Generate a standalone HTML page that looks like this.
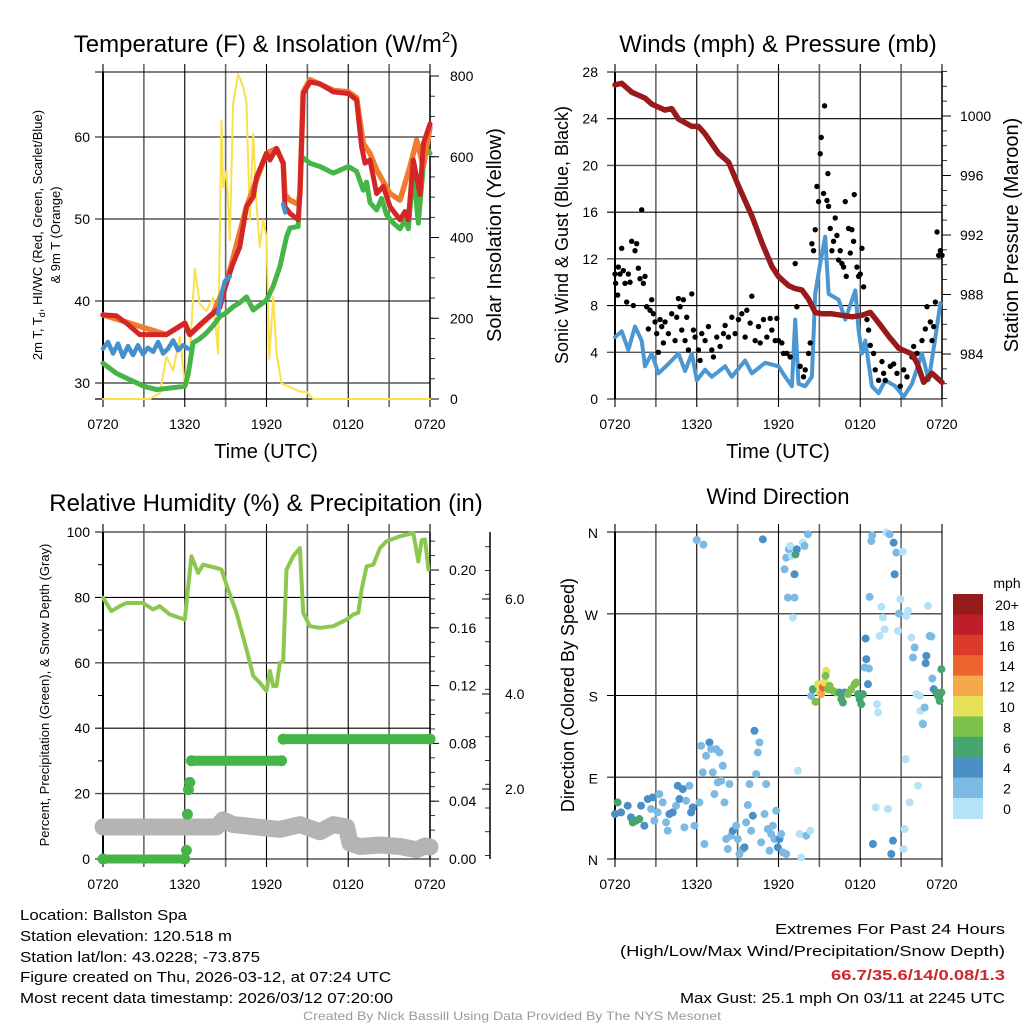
<!DOCTYPE html>
<html><head><meta charset="utf-8"><style>
html,body{margin:0;padding:0;background:#fff;}
svg{display:block;font-family:"Liberation Sans",sans-serif;}
.ft{font-family:"Liberation Sans",sans-serif;font-size:15px;}
</style></head><body>
<svg id="chart" width="1024" height="1024" viewBox="0 0 1024 1024" xmlns="http://www.w3.org/2000/svg">
<g id="layer"></g>
<text class="ft" x="20" y="920" textLength="167" lengthAdjust="spacingAndGlyphs">Location: Ballston Spa</text>
<text class="ft" x="20" y="941" textLength="212" lengthAdjust="spacingAndGlyphs">Station elevation: 120.518 m</text>
<text class="ft" x="20" y="962" textLength="240" lengthAdjust="spacingAndGlyphs">Station lat/lon: 43.0228; -73.875</text>
<text class="ft" x="20" y="982" textLength="371" lengthAdjust="spacingAndGlyphs">Figure created on Thu, 2026-03-12, at 07:24 UTC</text>
<text class="ft" x="20" y="1003" textLength="373" lengthAdjust="spacingAndGlyphs">Most recent data timestamp: 2026/03/12 07:20:00</text>
<text class="ft" x="1005" y="934" text-anchor="end" textLength="230" lengthAdjust="spacingAndGlyphs">Extremes For Past 24 Hours</text>
<text class="ft" x="1005" y="956" text-anchor="end" textLength="385" lengthAdjust="spacingAndGlyphs">(High/Low/Max Wind/Precipitation/Snow Depth)</text>
<text class="ft" x="1005" y="980" text-anchor="end" fill="#d0262d" font-weight="bold" textLength="174" lengthAdjust="spacingAndGlyphs">66.7/35.6/14/0.08/1.3</text>
<text class="ft" x="1005" y="1003" text-anchor="end" textLength="325" lengthAdjust="spacingAndGlyphs">Max Gust: 25.1 mph On 03/11 at 2245 UTC</text>
<text x="512" y="1020" text-anchor="middle" font-size="12" fill="#9a9a9a" textLength="418" lengthAdjust="spacingAndGlyphs">Created By Nick Bassill Using Data Provided By The NYS Mesonet</text>
</svg>
<script>
// ---------- DATA (hours after 0720 UTC use zoom-x: t=(zx-310)/40.83) ----------
const timeLabels = ["0720","1320","1920","0120","0720"];
const tempTicks = [30,40,50,60];
const solarTicks = [0,200,400,600,800];
const windTicks = [0,4,8,12,16,20,24,28];
const presTicks = [984,988,992,996,1000];
const rhTicks = [0,20,40,60,80,100];
const precipTicks = ["0.00","0.04","0.08","0.12","0.16","0.20"];
const snowTicks = ["2.0","4.0","6.0"];
const dirLabels = ["N","E","S","W","N"];
const speedBins = ["0","2","4","6","8","10","12","14","16","18","20+"];

const redX = [310,350,380,420,433,500,555,570,600,640,660,680,700,720,740,760,770,800,810,830,850,855,870,895,900,910,930,960,1000,1045,1070,1085,1095,1110,1130,1150,1170,1200,1215,1225,1240,1260,1270,1290];
const redV = [38.3,38.2,37.3,35.9,35.9,35.9,37.3,35.9,37.1,38.5,39.2,42.2,44.6,46.6,51.5,52.7,55.1,58,57.2,58.6,56.8,51.5,50.7,49.9,53,65.3,66.7,66.5,65.5,65.3,64.5,58.8,56.8,57.2,53.1,54,51.5,49.9,50.9,49.9,57.2,53,59.2,61.6];
const orangeX = [310,500,555,570,640,680,740,800,830,850,855,870,895,900,910,930,1000,1045,1070,1090,1110,1130,1170,1200,1230,1250,1270,1290];
const orangeV = [38.3,35.9,37.3,35.9,38.5,42.2,51.5,58,58.6,56.8,53,52.3,51.8,53,65.5,67,65.7,65.5,64.8,59.2,58,56,53.1,52.3,56.4,59.6,56.4,61.2];
const blueX = [310,325,340,355,370,385,400,415,430,445,460,475,490,505,520,535,550,565,null,655,665,675,690,null,850,856];
const blueV = [34.2,35,33.6,34.8,33.2,34.5,33.4,34.6,33.5,34.3,33.8,35,33.6,34.2,35.2,34,34.6,34.2,null,38.4,40.8,42.4,43,null,51.8,50.8];
const greenX = [310,350,380,433,470,555,565,580,600,620,640,660,680,700,720,740,760,780,800,820,840,860,870,895,905,930,960,1000,1045,1070,1090,1100,1110,1130,1145,1160,1180,1200,1215,1225,1240,1255,1275,1290];
const greenV = [32.4,31.2,30.6,29.6,29.2,29.6,31,34.9,35.4,36.1,37,38.1,38.6,39.3,39.8,40.5,38.9,39.5,40.1,41.8,44.2,47.8,48.9,49.1,57.6,56.8,56.4,55.6,56.4,55.8,53.5,54.5,52,51.1,52.5,50.5,49.5,48.8,49.8,48.8,56,49.5,58.8,58];
const solarX = [310,450,480,500,520,540,555,565,585,600,620,640,655,665,670,680,690,700,715,730,740,750,760,770,780,790,800,808,820,830,845,870,900,920,940,1290];
const solarV = [0,0,14,105,70,154,39,39,323,235,218,251,113,690,525,566,393,731,805,773,732,443,657,485,377,443,402,100,253,113,39,30,18,18,0,0];

const sonicX = [310,330,350,370,390,400,420,440,470,500,520,540,555,580,600,640,660,700,720,760,800,820,840,850,860,880,900,910,925,940,950,980,1000,1030,1040,1050,1060,1080,1100,1120,1150,1175,1200,1230,1250,1270,1285];
const sonicV = [5.3,5.8,4.2,6.2,5,2.8,3.9,2.2,3,3.9,2.4,3.9,1.6,2.5,1.9,2.8,1.9,3.3,2.2,3.1,2.8,1.9,1.1,6.8,1.3,1.1,1.9,9,11.6,13.9,9,8.5,6.8,9.3,5.9,3.9,5,1.1,0.5,1.6,1.1,0.2,1.3,3.9,1.6,5.3,8.2];
const gustX = [310,312,318,320,325,330,335,340,345,350,355,360,365,370,375,380,385,390,395,400,405,410,415,420,425,430,435,440,445,450,455,460,470,480,490,495,500,505,510,515,520,525,530,540,545,550,560,565,570,580,590,600,605,615,625,635,640,650,660,670,680,690,700,705,715,720,730,740,745,755,765,775,780,790,795,800,810,815,825,835,850,855,865,875,880,890,895,900,905,910,915,920,925,928,935,938,945,948,950,955,960,965,970,975,980,985,990,995,1000,1003,1010,1015,1020,1025,1027,1035,1040,1045,1050,1055,1065,1070,1075,1085,1090,1100,1110,1115,1120,1135,1145,1155,1165,1175,1185,1200,1205,1215,1230,1240,1245,1255,1260,1265,1270,1275,1280,1285,1290];
const gustV = [10.7,9.9,8.9,11.3,10.7,12.9,11,9.9,8.3,10.7,10,13.5,8,12.7,13.3,11.2,10.3,16.2,9.9,10.5,7.9,6,7.6,8.5,7.3,6.6,5.6,4,6.8,6.2,4.8,6.6,5.6,7.3,5,7,8.6,7.9,5.9,8.5,5,7,4.2,9,5.9,5.3,4.2,3.3,5.6,5,6.2,4.2,3.6,5.3,4.5,5.6,6.3,5.3,7,5.6,6.8,7.3,5.3,7.6,6.5,8.8,5,6.2,4.8,6.8,5.3,6.9,5.9,5,6.9,5,4.8,3.9,3.9,3.6,11.6,7.9,2.8,1.9,2.5,3.9,4.8,13.3,12.7,14.5,18.2,16.9,21,22.4,17.6,25.1,17,19.3,16.5,14.6,12.7,13.5,15.5,14,11.9,12.7,11.6,11.3,16.9,10.5,14.6,12.5,14.5,13.5,17.5,11.3,10.5,10.7,12.9,9.6,6.8,5.9,4.6,3.9,2.5,1.6,3.2,2.2,1.6,2.8,3,2.2,1.1,2.5,1.9,3.6,4.5,3.9,5,6,7.9,6.6,5,6.2,8.3,14.3,12.3,12.7,12.3];
const presX = [310,330,360,400,420,460,480,500,540,560,580,620,650,680,720,750,780,800,830,850,870,890,910,930,960,990,1020,1050,1075,1100,1130,1160,1200,1215,1235,1260,1290];
const presV = [1002.1,1002.2,1001.6,1001.2,1000.8,1000.4,1000.5,999.8,999.3,999.3,998.8,997.5,996.9,995.3,993.3,991.5,989.9,989.2,988.6,988.4,988.3,987.7,986.8,986.7,986.7,986.6,986.5,986.6,986.8,986.1,985.2,984.4,984,983.4,982.1,982.7,982.1];

const rhX = [310,335,360,380,430,460,480,510,555,575,595,610,650,665,685,710,740,760,780,800,810,820,830,840,850,860,880,900,910,930,960,1000,1040,1060,1075,1085,1100,1120,1140,1160,1200,1240,1255,1265,1275,1285];
const rhV = [79.9,75.8,77.3,78.3,78.3,76.3,77.3,74.8,73.2,92.6,87.5,90,89,88.5,82.4,75.3,64.1,56,53.9,51.4,57.5,52.9,52.9,60,60.5,88.5,92.6,95.1,75.3,71.2,70.7,71.2,73.2,74.8,75.3,82.4,89.5,90,95.1,97.2,98.7,99.7,91,97.5,97.7,88.5];
const precipX = [310,555,560,563,566,570,575,845,850,1290];
const precipV = [0,0,0.006,0.031,0.048,0.053,0.068,0.068,0.083,0.083];
const snowX = [310,650,670,700,840,900,960,1000,1040,1050,1080,1140,1200,1250,1275,1290];
const snowV = [1.2,1.2,1.35,1.25,1.15,1.25,1.1,1.25,1.2,0.86,0.79,0.82,0.79,0.72,0.8,0.78];

const dirX = [227,235,245,265,275,280,290,300,305,315,325,335,340,345,355,360,370,380,385,390,400,410,415,420,430,435,440,450,455,460,465,472,492,670,480,485,490,495,500,510,515,520,525,530,535,540,545,550,555,560,565,570,575,580,590,595,600,610,615,620,625,630,635,640,645,650,655,660,665,675,680,685,690,695,700,705,710,715,720,725,730,740,735,740,745,748,752,757,760,765,765,768,772,775,780,785,790,795,805,800,812,815,820,828,835,840,845,850,855,860,858,865,870,880,890,900,905,910,915,925,935,945,950,955,960,965,970,975,980,985,978,988,990,995,998,1000,1008,1012,1015,1020,1025,1030,1035,1040,1045,1050,1055,1060,1062,1065,1070,1075,1078,1082,1090,1092,1095,1098,1100,1105,1110,1115,1120,1125,1130,1135,1140,1142,1148,1150,1155,1160,1158,1165,1170,1175,1178,1182,1190,1195,1200,1205,1205];
const dirY = [885,850,880,860,895,910,905,900,860,920,840,870,835,905,880,825,850,910,935,885,880,860,800,840,810,925,845,800,880,865,920,62,76,60,850,680,760,975,710,670,690,760,825,690,790,700,785,740,850,960,990,795,950,935,920,960,1005,990,985,910,858,795,935,890,635,765,700,670,970,885,795,930,995,945,920,960,875,985,960,945,1000,1005,150,115,235,90,80,110,295,165,235,105,90,755,945,1015,70,80,45,950,935,530,510,548,495,520,525,505,490,455,470,510,500,515,520,520,540,550,520,525,510,495,490,525,540,555,525,445,420,495,358,448,233,65,48,975,865,555,580,350,263,295,330,40,870,45,1005,965,70,165,100,335,283,240,97,990,930,720,290,275,850,355,415,385,525,800,530,575,612,615,565,410,432,260,350,352,478,510,520,530,545,450,520];
const dirS = [4,6,4,4,4,6,6,6,4,4,4,2,4,2,2,2,2,2,2,4,4,2,4,4,4,2,2,2,4,4,2,2,2,4,2,2,2,2,2,4,2,2,2,2,2,2,2,2,2,2,2,2,2,4,2,2,2,2,4,2,2,2,2,4,4,2,2,2,2,2,2,2,2,2,2,2,2,4,4,2,2,2,2,2,2,2,0,0,0,4,2,6,4,0,0,0,0,2,2,2,0,2,6,8,10,10,12,14,10,10,8,8,8,8,8,6,6,6,4,8,8,8,8,6,6,6,6,2,4,4,4,2,2,2,2,4,0,0,0,0,0,0,0,0,0,2,4,4,4,4,2,0,2,0,0,0,0,0,0,0,0,0,2,2,0,0,0,0,0,2,2,4,4,0,2,2,2,4,6,6,6,6,6];

const binColors = ["#b5e2f7","#7dbae3","#4a8fc6","#47a56e","#7cc24a","#e6e159","#f4a94a","#ee6430","#dc3a2a","#bf1d27","#951a1a"];

// ---------- DRAWING ----------
const NS = "http://www.w3.org/2000/svg";
const layer = document.getElementById('layer');
function el(tag, attrs, parent, txt){const e=document.createElementNS(NS,tag);for(const k in attrs)e.setAttribute(k,attrs[k]);if(txt!==undefined)e.textContent=txt;(parent||layer).appendChild(e);return e;}
function grp(name){const g=el('g',{});


return g;}
function lin(a0,a1,p0,p1){return v=>p0+(v-a0)*(p1-p0)/(a1-a0);}
const zt = zx => (zx-310)/40.83; // hours
function pathFrom(xs,vs,xf,yf){let d="",pen=false;for(let i=0;i<xs.length;i++){if(xs[i]===null||vs[i]===null){pen=false;continue;}d+=(pen?"L":"M")+xf(zt(xs[i])).toFixed(1)+","+yf(vs[i]).toFixed(1);pen=true;}return d;}
function line(g,name,xs,vs,xf,yf,color,w){const p=el('path',{d:pathFrom(xs,vs,xf,yf),fill:'none',stroke:color,'stroke-width':w,'stroke-linejoin':'round','stroke-linecap':'round'},g);


return p;}
function txt(g,name,x,y,s,size,anchor,rot){const a={x:x,y:y,'font-size':size,'text-anchor':anchor||'middle'};if(rot)a.transform=`rotate(${rot} ${x} ${y})`;const t=el('text',a,g,s);


return t;}

function frame(g,x0,x1,y0,y1){
  const xf=lin(0,24,x0,x1);
  for(let i=0;i<=8;i++){const x=xf(i*3);const odd=i%2===1;
    el('line',{x1:x,x2:x,y1:y0-8,y2:y1+8,stroke:odd?'#666':'#000','stroke-width':odd?1.6:1.1},g);}
  for(let i=0;i<timeLabels.length;i++){txt(g,'x-tick-label',xf(i*6),y1+30,timeLabels[i],14);}
  return xf;
}
function hgrid(g,ys,x0,x1,len){ys.forEach((y,i)=>el('line',{x1:x0-len,x2:x1,y1:y,y2:y,stroke:i%2? '#555':'#000','stroke-width':i%2?1.4:1.1},g));}
function rticks(g,x,yf,majors,minorStep,vmin,vmax){
  for(let v=vmin;v<=vmax+1e-9;v+=minorStep){el('line',{x1:x,x2:x+5,y1:yf(v),y2:yf(v),stroke:'#000','stroke-width':0.8},g);}
  majors.forEach(v=>el('line',{x1:x,x2:x+9,y1:yf(v),y2:yf(v),stroke:'#000','stroke-width':1},g));
  el('line',{x1:x,x2:x,y1:yf(vmax),y2:yf(vmin),stroke:'#000','stroke-width':1.5},g);
}

// ===== Panel 1: Temperature =====
(function(){
 const g=grp('temperature-panel');
 const X0=103,X1=430,Y0=72,Y1=399;
 const yT=lin(30,60,383,137), yS=lin(0,800,399,76);
 txt(g,'temperature-title',266,52,'Temperature (F) & Insolation (W/m',24).innerHTML='Temperature (F) &amp; Insolation (W/m<tspan font-size="15" dy="-10">2</tspan><tspan dy="10">)</tspan>';
 const xf=frame(g,X0,X1,Y0,Y1);
 hgrid(g,[Y0].concat(tempTicks.map(yT)),X0,X1,8);
 tempTicks.forEach(v=>txt(g,'y-tick-label',90,yT(v)+5,String(v),14,'end'));
 el('line',{x1:X0-8,x2:X1,y1:Y1,y2:Y1,stroke:'#000','stroke-width':1.2},g);
 el('line',{x1:X0,x2:X0,y1:Y0,y2:Y1,stroke:'#000','stroke-width':2},g);
 rticks(g,X1,yS,solarTicks,50,0,800);
 solarTicks.forEach(v=>txt(g,'right-tick-label',450,yS(v)+5,String(v),14,'start'));
 line(g,'solar-line',solarX,solarV,xf,yS,'#f9e04d',2);
 line(g,'dewpoint-line',greenX,greenV,xf,yT,'#46b446',5);
 line(g,'temp-9m-line',orangeX,orangeV,xf,yT,'#f07c30',5.5);
 line(g,'temp-2m-line',redX,redV,xf,yT,'#d42626',5);
 line(g,'windchill-line',blueX,blueV,xf,yT,'#4590cc',4.5);
 txt(g,'y-axis-title',42,235,'2m T, T',13,'middle',-90).innerHTML='2m T, T<tspan font-size="9" dy="3">d</tspan><tspan dy="-3">, HI/WC (Red, Green, Scarlet/Blue)</tspan>';
 txt(g,'y-axis-title-2',60,235,'& 9m T (Orange)',13,'middle',-90);
 txt(g,'right-axis-title',501,235,'Solar Insolation (Yellow)',20,'middle',-90);
 txt(g,'x-axis-title',266,458,'Time (UTC)',20);
})();

// ===== Panel 2: Winds =====
(function(){
 const g=grp('winds-panel');
 const X0=615,X1=942,Y0=72,Y1=399;
 const yW=lin(0,28,399,72), yP=lin(984,1000,354,116);
 txt(g,'winds-title',778,52,'Winds (mph) & Pressure (mb)',24);
 const xf=frame(g,X0,X1,Y0,Y1);
 hgrid(g,windTicks.map(yW),X0,X1,8);
 windTicks.forEach(v=>txt(g,'y-tick-label',598,yW(v)+5,String(v),14,'end'));
 el('line',{x1:X0,x2:X0,y1:Y0,y2:Y1,stroke:'#000','stroke-width':2},g);
 rticks(g,X1,yP,presTicks,1,981,1003);
 presTicks.forEach(v=>txt(g,'right-tick-label',960,yP(v)+5,String(v),14,'start'));
 line(g,'sonic-wind-line',sonicX,sonicV,xf,yW,'#4a97d2',4);
 for(let i=0;i<gustX.length;i++){const c=el('circle',{cx:xf(zt(gustX[i])),cy:yW(gustV[i]),r:2.7,fill:'#000'},g);
  
  }
 line(g,'pressure-line',presX,presV,xf,yP,'#981a1a',5.5);
 txt(g,'y-axis-title',568,235,'Sonic Wind & Gust (Blue, Black)',18,'middle',-90);
 txt(g,'right-axis-title',1018,235,'Station Pressure (Maroon)',20,'middle',-90);
 txt(g,'x-axis-title',778,458,'Time (UTC)',20);
})();

// ===== Panel 3: RH & Precip =====
(function(){
 const g=grp('humidity-panel');
 const X0=103,X1=430,Y0=532,Y1=859;
 const yR=lin(0,100,859,532), yPr=lin(0,0.2,859,570), ySn=lin(0,2,884,789);
 txt(g,'humidity-title',266,511,'Relative Humidity (%) & Precipitation (in)',24);
 const xf=frame(g,X0,X1,Y0,Y1);
 hgrid(g,rhTicks.map(yR),X0,X1,8);
 [10,30,50,70,90].forEach(v=>el('line',{x1:X0-5,x2:X0,y1:yR(v),y2:yR(v),stroke:'#000'},g));
 rhTicks.forEach(v=>txt(g,'y-tick-label',90,yR(v)+5,String(v),14,'end'));
 el('line',{x1:X0,x2:X0,y1:Y0,y2:Y1,stroke:'#000','stroke-width':2},g);
 rticks(g,X1,yPr,precipTicks.map(Number),0.01,0,0.226);
 precipTicks.forEach(v=>txt(g,'precip-tick-label',449,yPr(Number(v))+5,v,14,'start'));
 const sx=490;
 el('line',{x1:sx,x2:sx,y1:Y0,y2:Y1,stroke:'#000','stroke-width':1.5},g);
 for(let v=0.6;v<=7.5;v+=0.5){const y=ySn(v);if(y<Y0||y>Y1)continue;el('line',{x1:sx-5,x2:sx,y1:y,y2:y,stroke:'#000','stroke-width':0.8},g);}
 snowTicks.forEach(v=>{el('line',{x1:sx-8,x2:sx,y1:ySn(Number(v)),y2:ySn(Number(v)),stroke:'#000'},g);txt(g,'snow-tick-label',505,ySn(Number(v))+5,v,14,'start');});
 line(g,'snow-depth-line',snowX,snowV,xf,ySn,'#b4b4b4',17);
 line(g,'precip-line',precipX.slice(0,2),precipV.slice(0,2),xf,yPr,'#46b446',9);
 line(g,'precip-line-2',precipX.slice(6,8),precipV.slice(6,8),xf,yPr,'#46b446',10);
 line(g,'precip-line-3',precipX.slice(8),precipV.slice(8),xf,yPr,'#46b446',10);
 for(let i=0;i<precipX.length;i++){const c=el('circle',{cx:xf(zt(precipX[i])),cy:yPr(precipV[i]),r:5.5,fill:'#46b446'},g);
  
  }
 line(g,'rh-line',rhX,rhV,xf,yR,'#8cc850',4);
 txt(g,'y-axis-title',49,695,'Percent, Precipitation (Green), & Snow Depth (Gray)',13,'middle',-90);
})();

// ===== Panel 4: Wind Direction =====
(function(){
 const g=grp('wind-direction-panel');
 const X0=615,X1=942,Y0=532,Y1=859;
 const yD=lin(0,360,859,532);
 txt(g,'wind-direction-title',778,504,'Wind Direction',22);
 const xf=frame(g,X0,X1,Y0,Y1);
 const dy=[0,90,180,270,360];
 hgrid(g,dy.map(yD),X0,X1,8);
 dy.forEach((v,i)=>txt(g,'direction-tick-label',598,yD(v)+6,dirLabels[i],14,'end'));
 el('line',{x1:X0,x2:X0,y1:Y0,y2:Y1,stroke:'#000','stroke-width':2},g);
 const xz=zx=>xf((zx-227)/40.83);
 const dd=zy=>(1020-zy)/982*360;
 for(let i=0;i<dirX.length;i++){const b=Math.min(10,Math.floor(dirS[i]/2));
  const c=el('circle',{cx:xz(dirX[i]),cy:yD(dd(dirY[i])),r:4,fill:binColors[b]},g);
  
  }
 txt(g,'y-axis-title',574,695,'Direction (Colored By Speed)',18,'middle',-90);
 const cb=grp('speed-colorbar');
 const cx=953,cw=30,ctop=594,ch=20.4;
 txt(cb,'colorbar-unit',1007,588,'mph',14);
 for(let i=0;i<speedBins.length;i++){const idx=speedBins.length-1-i;
  const r=el('rect',{x:cx,y:ctop+i*ch,width:cw,height:ch+0.5,fill:binColors[idx]},cb);
  
  
  txt(cb,'colorbar-label',1007,ctop+i*ch+16,speedBins[idx],14);}
})();
</script>
</body></html>
